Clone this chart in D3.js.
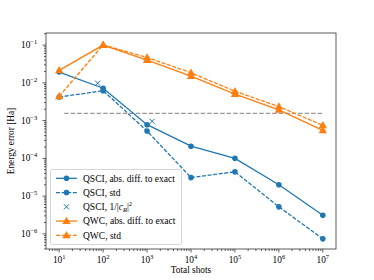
<!DOCTYPE html>
<html>
<head>
<meta charset="utf-8">
<script src="https://cdn.jsdelivr.net/npm/d3@7"></script>
<style>
  body { margin: 0; background: #fff; }
  svg { font-family: "Liberation Serif", "DejaVu Serif", serif; }
</style>
</head>
<body>
<div id="root"></div>
<script>
const width = 374;
const height = 280;

const shots = [1e1, 1e2, 1e3, 1e4, 1e5, 1e6, 1e7];
const qsciAbs = [0.0193, 0.0072, 7.8e-4, 2.1e-4, 1.0e-4, 2.0e-5, 3.1e-6];
const qsciStd = [0.0042, 0.0062, 5.3e-4, 3.1e-5, 4.4e-5, 5.2e-6, 7.4e-7];
const crShots = [75, 1300];
const crValues = [0.0098, 9.6e-4];
const qwcAbs = [0.0214, 0.100, 0.040, 0.0150, 0.0050, 0.00193, 5.5e-4];
const qwcStd = [0.0044, 0.101, 0.047, 0.0185, 0.0060, 0.00235, 7.5e-4];
const chemAcc = 1.55e-3;
const xTicks = [1, 2, 3, 4, 5, 6, 7];
const yTicks = [-6, -5, -4, -3, -2, -1];

const margin = { left: 46, right: 38, top: 33, bottom: 31 };
const blue = "#1f77b4";
const orange = "#ff7f0e";

const x = d3.scaleLog()
    .domain([Math.pow(10, 0.7), Math.pow(10, 7.3)])
    .range([margin.left, width - margin.right]);
const y = d3.scaleLog()
    .domain([Math.pow(10, -6.4), Math.pow(10, -0.68)])
    .range([height - margin.bottom, margin.top]);

const svg = d3.select("#root")
    .append("svg")
    .attr("width", width)
    .attr("height", height);

const sup = (sel, e) => {
    sel.append("tspan").text("10");
    sel.append("tspan")
        .attr("dy", -4)
        .attr("font-size", 6.5)
        .text(e < 0 ? "\u2212" + (-e) : e);
};

// minor ticks
const minor = [];
for (let e = 0; e <= 7; e++) for (let m = 2; m <= 9; m++) minor.push(m * Math.pow(10, e));
const xd = x.domain(), yd = y.domain();

const ax = svg.append("g").attr("stroke", "#333").attr("stroke-width", 0.8);
ax.selectAll(".xminor")
    .data(minor.filter(v => v >= xd[0] && v <= xd[1]))
    .join("line")
    .attr("x1", d => x(d)).attr("x2", d => x(d))
    .attr("y1", height - margin.bottom).attr("y2", height - margin.bottom + 2);
ax.selectAll(".xmajor")
    .data(xTicks)
    .join("line")
    .attr("x1", d => x(Math.pow(10, d))).attr("x2", d => x(Math.pow(10, d)))
    .attr("y1", height - margin.bottom).attr("y2", height - margin.bottom + 3.5);

const yminor = [];
for (let e = -7; e <= 0; e++) for (let m = 2; m <= 9; m++) yminor.push(m * Math.pow(10, e));
ax.selectAll(".yminor")
    .data(yminor.filter(v => v >= yd[0] && v <= yd[1]))
    .join("line")
    .attr("y1", d => y(d)).attr("y2", d => y(d))
    .attr("x1", margin.left).attr("x2", margin.left - 2);
ax.selectAll(".ymajor")
    .data(yTicks)
    .join("line")
    .attr("y1", d => y(Math.pow(10, d))).attr("y2", d => y(Math.pow(10, d)))
    .attr("x1", margin.left).attr("x2", margin.left - 3.5);

svg.selectAll(".xlab")
    .data(xTicks)
    .join("text")
    .attr("x", d => x(Math.pow(10, d)))
    .attr("y", height - margin.bottom + 14)
    .attr("text-anchor", "middle")
    .attr("font-size", 9.3)
    .each(function(d) { sup(d3.select(this), d); });

svg.selectAll(".ylab")
    .data(yTicks)
    .join("text")
    .attr("x", margin.left - 25)
    .attr("y", d => y(Math.pow(10, d)) + 3)
    .attr("text-anchor", "start")
    .attr("font-size", 9.3)
    .each(function(d) { sup(d3.select(this), d); });

svg.append("text")
    .attr("x", (margin.left + width - margin.right) / 2)
    .attr("y", height - 7)
    .attr("text-anchor", "middle")
    .attr("font-size", 9.3)
    .text("Total shots");

svg.append("text")
    .attr("transform", `translate(14,${(margin.top + height - margin.bottom) / 2}) rotate(-90)`)
    .attr("text-anchor", "middle")
    .attr("font-size", 9.3)
    .text("Energy error [Ha]");

// chemical accuracy
svg.append("line")
    .attr("x1", x(13)).attr("x2", x(1e7))
    .attr("y1", y(chemAcc)).attr("y2", y(chemAcc))
    .attr("stroke", "#999").attr("stroke-width", 1.3)
    .attr("stroke-dasharray", "4.5,2");

const line = d3.line().x(d => x(d[0])).y(d => y(d[1]));
const tri = d3.symbol().type(d3.symbolTriangle).size(30);

function series(vals, color, dash, marker) {
    const pts = shots.map((s, i) => [s, vals[i]]);
    svg.append("path")
        .attr("d", line(pts))
        .attr("fill", "none")
        .attr("stroke", color)
        .attr("stroke-width", 1.3)
        .attr("stroke-dasharray", dash);
    const g = svg.append("g").attr("fill", color);
    if (marker === "o") {
        g.selectAll("circle").data(pts).join("circle")
            .attr("cx", d => x(d[0])).attr("cy", d => y(d[1])).attr("r", 2.8);
    } else {
        g.selectAll("path").data(pts).join("path")
            .attr("d", tri)
            .attr("transform", d => `translate(${x(d[0])},${y(d[1]) + 0.5})`);
    }
}

series(qsciAbs, blue, null, "o");
series(qsciStd, blue, "4,1.6", "o");
series(qwcAbs, orange, null, "^");
series(qwcStd, orange, "4,1.6", "^");

const cross = (g, cx, cy, s) => {
    g.append("path")
        .attr("d", `M${cx - s},${cy - s}L${cx + s},${cy + s}M${cx - s},${cy + s}L${cx + s},${cy - s}`)
        .attr("stroke", blue).attr("stroke-width", 1);
};
const cg = svg.append("g");
crShots.forEach((s, i) => cross(cg, x(s), y(crValues[i]), 2.6));

// frame
svg.append("rect")
    .attr("x", margin.left).attr("y", margin.top)
    .attr("width", width - margin.left - margin.right)
    .attr("height", height - margin.top - margin.bottom)
    .attr("fill", "none").attr("stroke", "#333").attr("stroke-width", 0.8);

// legend
const legend = [
    { label: "QSCI, abs. diff. to exact", color: blue, dash: null, marker: "o" },
    { label: "QSCI, std", color: blue, dash: "4,1.6", marker: "o" },
    { label: "QSCI, 1/|", color: blue, dash: null, marker: "x" },
    { label: "QWC, abs. diff. to exact", color: orange, dash: null, marker: "^" },
    { label: "QWC, std", color: orange, dash: "4,1.6", marker: "^" },
];
const lg = svg.append("g");
lg.append("rect")
    .attr("x", 50.5).attr("y", 169.5).attr("width", 131).attr("height", 75)
    .attr("rx", 2)
    .attr("fill", "rgba(255,255,255,0.8)")
    .attr("stroke", "#ccc").attr("stroke-width", 0.8);
legend.forEach((d, i) => {
    const ly = 178.3 + i * 14.25;
    if (d.marker !== "x") {
        lg.append("line")
            .attr("x1", 56).attr("x2", 77).attr("y1", ly).attr("y2", ly)
            .attr("stroke", d.color).attr("stroke-width", 1.3)
            .attr("stroke-dasharray", d.dash);
    }
    if (d.marker === "o") {
        lg.append("circle").attr("cx", 66.5).attr("cy", ly).attr("r", 2.8).attr("fill", d.color);
    } else if (d.marker === "^") {
        lg.append("path").attr("d", tri).attr("transform", `translate(66.5,${ly + 0.5})`).attr("fill", d.color);
    } else {
        cross(lg, 66.5, ly, 2.6);
    }
    const t = lg.append("text")
        .attr("x", 83).attr("y", ly + 3.2)
        .attr("font-size", 9.5);
    t.append("tspan").text(d.label);
    if (d.marker === "x") {
        t.append("tspan").attr("font-style", "italic").text("c");
        t.append("tspan").attr("dy", 1.5).attr("font-size", 6.5).attr("font-style", "italic").text("R");
        t.append("tspan").attr("dy", -1.5).text("|");
        t.append("tspan").attr("dy", -4).attr("font-size", 6.5).text("2");
    }
});
</script>
</body>
</html>
